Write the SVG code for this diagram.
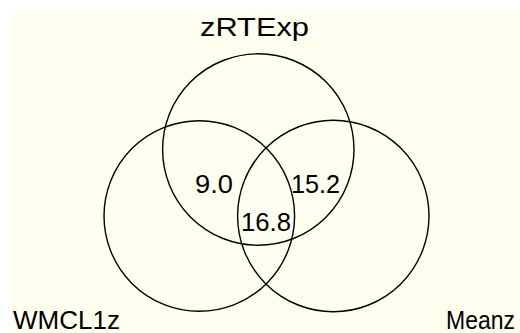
<svg xmlns="http://www.w3.org/2000/svg" width="520" height="333" viewBox="0 0 520 333">
<style>
.c{fill:none;stroke:#000;stroke-width:1.4}
.t{font-family:"Liberation Sans",Arial,sans-serif;font-size:25px;fill:#000}
</style>
<rect x="0" y="0" width="520" height="333" fill="#ffffff"/>
<rect x="10" y="13" width="510" height="320" fill="#fffff0"/>
<g id="zRTExp">
<circle class="c" cx="258.3" cy="149.5" r="95.7"/>
<text class="t" x="200" y="36" textLength="109" lengthAdjust="spacingAndGlyphs">zRTExp</text>
</g>
<g id="WMCL1z">
<circle class="c" cx="199.3" cy="216" r="95.3"/>
<text class="t" x="13" y="329" textLength="107" lengthAdjust="spacingAndGlyphs">WMCL1z</text>
</g>
<g id="Meanz">
<circle class="c" cx="333.3" cy="216" r="95.7"/>
<text class="t" x="446" y="329" textLength="69" lengthAdjust="spacingAndGlyphs">Meanz</text>
</g>
<g id="labels">
<text class="t" x="195" y="192.5" textLength="38" lengthAdjust="spacingAndGlyphs">9.0</text>
<text class="t" x="291" y="192.5" textLength="49" lengthAdjust="spacingAndGlyphs">15.2</text>
<text class="t" x="241" y="231" textLength="50" lengthAdjust="spacingAndGlyphs">16.8</text>
</g>
</svg>
